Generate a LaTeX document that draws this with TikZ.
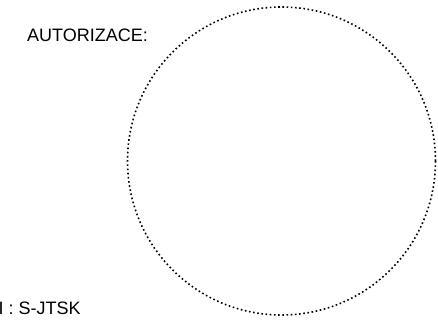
\documentclass[tikz,border=0pt]{standalone}
\usepackage{fontspec}
\setmainfont{Liberation Sans}
\usetikzlibrary{positioning}

\begin{document}
\begin{tikzpicture}[x=1pt, y=-1pt,
  caption/.style = {inner sep=0pt, anchor=base west, font=\fontsize{18}{20}\selectfont},
  stampring/.style = {circle, draw, line width=1.6pt, dash pattern=on 1.6pt off 2.6pt, minimum size=308pt, inner sep=0pt}]
  \useasboundingbox (0,0) rectangle (438,327);
  \node[caption] (autorizace) at (27,41) {AUTORIZACE:};
  \node[stampring] (razitko) at (281.5,161) {};
  \node[caption] (system) at (-1.5,314) {I : S-JTSK};
\end{tikzpicture}
\end{document}
